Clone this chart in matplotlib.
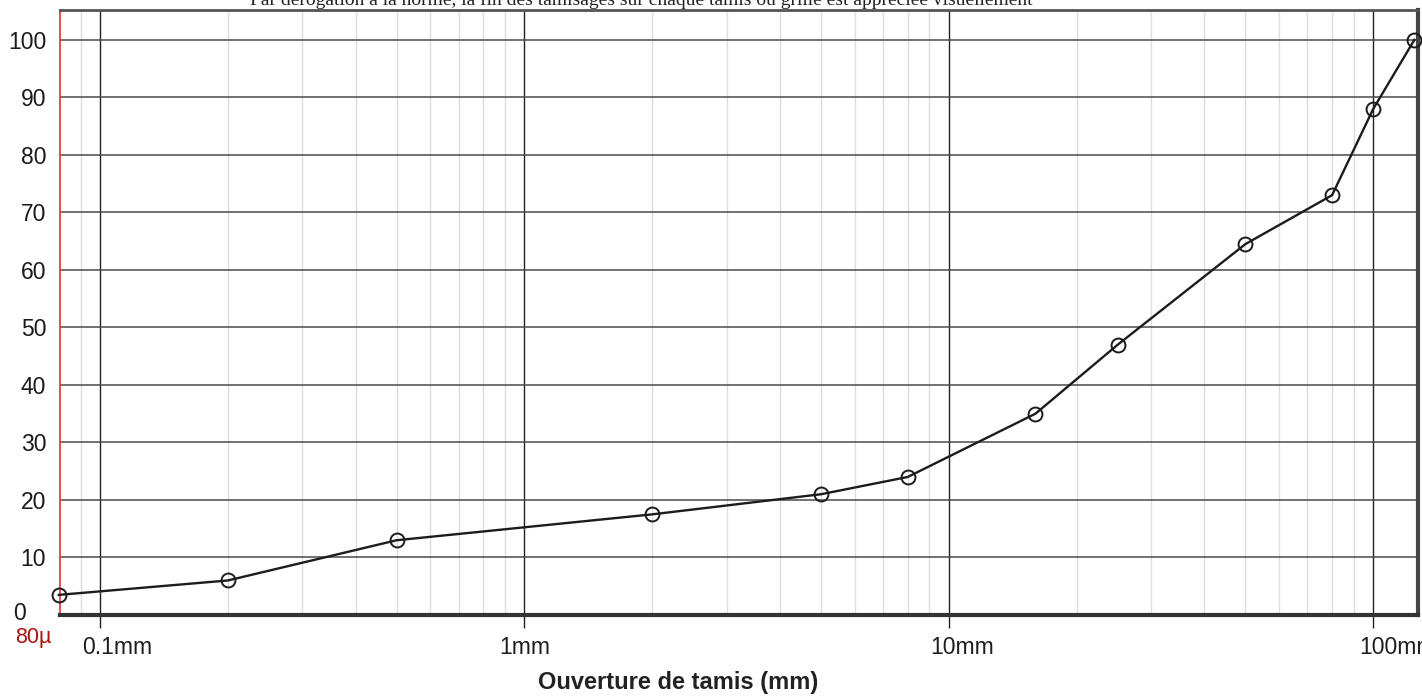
import numpy as np
import matplotlib
matplotlib.use('Agg')
import matplotlib.pyplot as plt
import matplotlib.transforms as mtransforms

# sieve openings (mm) and cumulative passing (%)
sieves = [0.08, 0.2, 0.5, 2, 5, 8, 16, 25, 50, 80, 100, 125]
passing = [3.5, 6, 13, 17.5, 21, 24, 35, 47, 64.5, 73, 88, 100]

major_ticks = [0.1, 1, 10, 100]
major_labels = ['0.1mm', '1mm', '10mm', '100mm']
y_ticks = list(range(0, 101, 10))

plt.rcParams['font.family'] = ['Liberation Sans', 'DejaVu Sans']

fig = plt.figure(figsize=(14.22, 6.96), dpi=100)
W, H = 1422, 696
ax = fig.add_axes([60 / W, 1 - 615 / H, 1358 / W, 605 / H])

ax.set_xscale('log')
ax.set_xlim(0.0805, 127.5)
ax.set_ylim(0, 105.2)

# grid: light minor verticals, dark decades, dark horizontals
minor = [m * d for d in [0.01, 0.1, 1, 10, 100] for m in range(2, 10)]
minor = [v for v in minor if 0.0805 < v < 127.5]
for v in minor:
    ax.axvline(v, color='#d9dee2', lw=1, zorder=1)
for v in major_ticks:
    ax.axvline(v, color='#222222', lw=1, zorder=2)
for v in y_ticks[1:]:
    ax.axhline(v, color='#4a4a4a', lw=1.1, zorder=2)

ax.plot(sieves, passing, color='#1c1c1c', lw=1.7, marker='o', ms=10,
        mfc='none', mec='#1c1c1c', mew=1.4, zorder=4, clip_on=False)

ax.set_xticks(major_ticks)
ax.set_xticklabels(major_labels, fontsize=16.5, color='#1e1e1e')
ax.xaxis.set_minor_locator(matplotlib.ticker.NullLocator())
ax.tick_params(axis='x', direction='out', length=9, width=1, color='#222222', pad=6)
ax.set_yticks(y_ticks)
ax.set_yticklabels([str(v) for v in y_ticks], fontsize=16.5, color='#1a1a1a')
ax.tick_params(axis='y', length=0, pad=10)

# shift some labels like in the scan
offsets = [17, 0, 13, 24]
for lab, dx in zip(ax.get_xticklabels(), offsets):
    lab.set_transform(lab.get_transform() + mtransforms.ScaledTranslation(dx / 100, 0, fig.dpi_scale_trans))
zero_lab = ax.get_yticklabels()[0]
zero_lab.set_transform(zero_lab.get_transform() + mtransforms.ScaledTranslation(-0.2, 0.04, fig.dpi_scale_trans))

ax.spines['left'].set_color('#e0453c')
ax.spines['left'].set_linewidth(1.3)
ax.spines['bottom'].set_color('#333333')
ax.spines['bottom'].set_linewidth(3)
ax.spines['right'].set_color('#444444')
ax.spines['right'].set_linewidth(3)
ax.spines['top'].set_color('#555555')
ax.spines['top'].set_linewidth(2)

fig.text(51 / W, 1 - 637 / H, '80µ', color='#a8120c', fontsize=15.5, ha='right', va='center')
fig.text(678 / W, 1 - 683 / H, 'Ouverture de tamis (mm)', fontsize=17, fontweight='bold',
         color='#222222', ha='center', va='center')
fig.text(250 / W, 1 - 5 / H,
         'Par dérogation à la norme, la fin des tamisages sur chaque tamis ou grille est appréciée visuellement',
         family='Liberation Serif', fontsize=14, color='#222222', ha='left', va='baseline')

fig.savefig('out.png', dpi=100, facecolor='white')
